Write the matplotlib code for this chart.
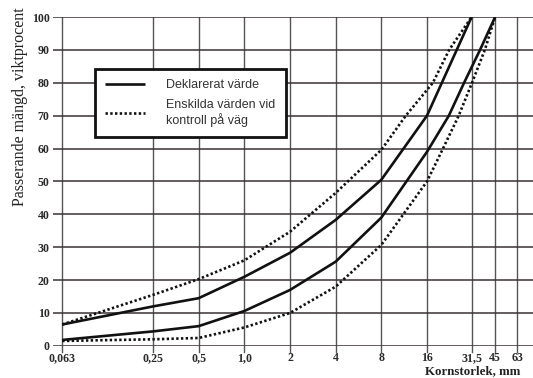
import matplotlib
matplotlib.use("Agg")
import matplotlib.pyplot as plt
from matplotlib.lines import Line2D

# Sieve sizes (mm) shown as ticks
tick_values = [0.063, 0.25, 0.5, 1.0, 2, 4, 8, 16, 31.5, 45, 63]
tick_labels = ["0,063", "0,25", "0,5", "1,0", "2", "4", "8", "16", "31,5", "45", "63"]
y_ticks = [0, 10, 20, 30, 40, 50, 60, 70, 80, 90, 100]

# Declared value envelope (solid)
decl_upper_x = [0.063, 0.25, 0.5, 1.0, 2, 4, 8, 16, 31.5]
decl_upper_y = [6.5, 12, 14.5, 21, 28.3, 38.3, 50.5, 70, 100]
decl_lower_x = [0.063, 0.25, 0.5, 1.0, 2, 4, 8, 16, 22.3, 28.1, 35.8, 45]
decl_lower_y = [1.8, 4.4, 6, 10.6, 17, 25.6, 39, 59, 70, 80, 90, 100]

# Single values at road control (dotted)
ctrl_upper_x = [0.063, 0.25, 0.5, 1.0, 2, 4, 8, 11.6, 17.5, 22.4, 31.5]
ctrl_upper_y = [6.5, 15.5, 20.3, 26, 34.7, 46.5, 59.6, 70, 80, 90, 100]
ctrl_lower_x = [0.063, 0.25, 0.5, 1.0, 2, 4, 8, 16, 20.4, 25.9, 31.7, 38.5, 45]
ctrl_lower_y = [1.5, 2, 2.4, 5.6, 10, 18, 30.7, 50, 60, 70, 80, 90, 100]

legend_labels = ["Deklarerat värde", "Enskilda värden vid\nkontroll på väg"]

fig = plt.figure(figsize=(5.33, 3.78), dpi=100)
ax = fig.add_axes([0.0995, 0.085, 0.9005, 0.87])
ax.set_xscale("log")
ax.set_xlim(0.0548, 80)
ax.set_ylim(0, 100)

for s in ax.spines.values():
    s.set_visible(False)

ax.set_xticks(tick_values)
ax.set_xticklabels(tick_labels)
ax.xaxis.set_minor_locator(matplotlib.ticker.NullLocator())
ax.set_yticks(y_ticks)
ax.tick_params(axis="y", length=0, pad=2.5)
ax.tick_params(axis="x", length=0, pad=4.5)
for lab in ax.get_xticklabels() + ax.get_yticklabels():
    lab.set_fontfamily("Liberation Serif")
    lab.set_fontweight("bold")
    lab.set_fontsize(8.6)
    lab.set_color("#2a2a2a")

ax.grid(True, axis="y", color="#3a3232", lw=1.1, zorder=0)
ax.grid(True, axis="x", color="#555555", lw=1.0, zorder=0)
ax.set_axisbelow(True)
# vertical grid lines extend slightly below zero
for tv in tick_values:
    ax.plot([tv, tv], [0, -1.8], color="#555555", lw=1.0, clip_on=False)

solid_kw = dict(color="#111111", lw=1.9, solid_capstyle="butt", zorder=3)
dot_kw = dict(color="#111111", lw=1.9, linestyle=(0, (0.9, 0.9)), zorder=3)
ax.plot(decl_upper_x, decl_upper_y, **solid_kw)
ax.plot(decl_lower_x, decl_lower_y, **solid_kw)
ax.plot(ctrl_upper_x, ctrl_upper_y, **dot_kw)
ax.plot(ctrl_lower_x, ctrl_lower_y, **dot_kw)

handles = [Line2D([], [], **solid_kw), Line2D([], [], **dot_kw)]
leg = ax.legend(handles, legend_labels, loc="upper left",
                bbox_to_anchor=(95 / 533, 1 - 69 / 378), bbox_transform=fig.transFigure,
                fancybox=False, framealpha=1, edgecolor="#111111",
                handlelength=3.2, handletextpad=1.7, borderpad=0.8,
                labelspacing=0.6, borderaxespad=0,
                prop={"family": "Liberation Sans", "size": 9})
leg.get_frame().set_linewidth(2)
for t in leg.get_texts():
    t.set_color("#333333")

ax.set_ylabel("Passerande mängd, viktprocent", fontfamily="Liberation Serif",
              fontsize=11.5, color="#222222")
ax.yaxis.set_label_coords(-0.052, 0.726)
fig.text(0.977, 0.002, "Kornstorlek, mm", ha="right", va="bottom",
         fontfamily="Liberation Serif", fontweight="bold", fontsize=9.3, color="#222222")

fig.savefig("out.png", dpi=100)
